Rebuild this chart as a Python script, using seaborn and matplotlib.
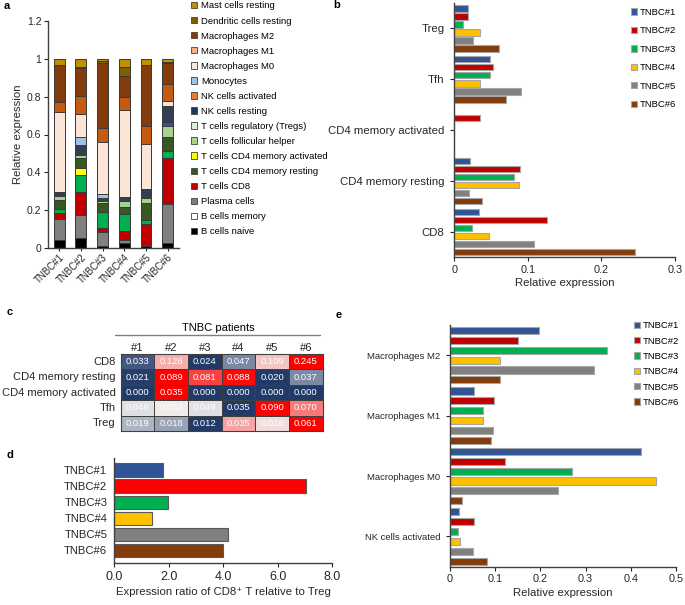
import numpy as np
import pandas as pd
import matplotlib
matplotlib.use('Agg')
import matplotlib.pyplot as plt
from matplotlib.colors import LinearSegmentedColormap
from matplotlib.patches import Patch
from matplotlib.lines import Line2D
import seaborn as sns

W, H = 685, 605

SAMPLES = ['TNBC#1', 'TNBC#2', 'TNBC#3', 'TNBC#4', 'TNBC#5', 'TNBC#6']
SAMPLE_COLORS = ['#2F5597', '#C00000', '#00B050', '#FFC000', '#808080', '#843C0C']
RATIO_COLORS = ['#2F5597', '#FF0000', '#00B050', '#FFC000', '#808080', '#843C0C']

# T cell fractions (panel b / c)
CD8 = [0.033, 0.126, 0.024, 0.047, 0.109, 0.245]
CD4_RESTING = [0.021, 0.089, 0.081, 0.088, 0.020, 0.037]
CD4_ACTIVATED = [0.000, 0.035, 0.000, 0.000, 0.000, 0.000]
TFH = [0.049, 0.052, 0.049, 0.035, 0.090, 0.070]
TREG = [0.019, 0.018, 0.012, 0.035, 0.026, 0.061]

# myeloid / NK fractions (panel e)
MACRO_M2 = [0.198, 0.150, 0.347, 0.110, 0.319, 0.110]
MACRO_M1 = [0.054, 0.097, 0.074, 0.072, 0.095, 0.090]
MACRO_M0 = [0.422, 0.121, 0.271, 0.455, 0.238, 0.027]
NK_ACTIVATED = [0.020, 0.052, 0.017, 0.022, 0.050, 0.082]

# other cell types (panel a only)
B_NAIVE = [0.044, 0.053, 0.012, 0.026, 0.012, 0.030]
B_MEMORY = [0.0, 0.0, 0.0, 0.0, 0.0, 0.0]
PLASMA = [0.109, 0.120, 0.072, 0.020, 0.007, 0.203]
NK_RESTING = [0.0, 0.0, 0.0, 0.0, 0.0, 0.020]
MONOCYTES = [0.0, 0.040, 0.020, 0.0, 0.0, 0.0]
DC_RESTING = [0.0, 0.005, 0.008, 0.045, 0.0, 0.008]
MAST_RESTING = [0.031, 0.042, 0.013, 0.045, 0.034, 0.017]

# CD8 / Treg ratio (panel d)
RATIO = [1.77, 7.02, 1.98, 1.37, 4.16, 4.00]

# stack order, bottom to top
CELL_TYPES = ['B cells naive', 'B cells memory', 'Plasma cells', 'T cells CD8',
              'T cells CD4 memory resting', 'T cells CD4 memory activated',
              'T cells follicular helper', 'T cells regulatory (Tregs)',
              'NK cells resting', 'NK cells activated', 'Monocytes',
              'Macrophages M0', 'Macrophages M1', 'Macrophages M2',
              'Dendritic cells resting', 'Mast cells resting']
FRACTIONS = [B_NAIVE, B_MEMORY, PLASMA, CD8, CD4_RESTING, CD4_ACTIVATED, TFH, TREG,
             NK_RESTING, NK_ACTIVATED, MONOCYTES, MACRO_M0, MACRO_M1, MACRO_M2,
             DC_RESTING, MAST_RESTING]
BAR_COLORS = ['#000000', '#FFFFFF', '#808080', '#C00000', '#00B050', '#FFFF00',
              '#385723', '#A9D18E', '#2F5597', '#333F50', '#9DC3E6', '#FBE5D6',
              '#C55A11', '#843C0C', '#7F6000', '#BF9000']
LEGEND_COLORS = ['#000000', '#FFFFFF', '#7F7F7F', '#C00000', '#385723', '#FFFF00',
                 '#A9D18E', '#E2F0D9', '#203864', '#ED7D31', '#9DC3E6', '#FBE5D6',
                 '#F4B183', '#843C0C', '#7F6000', '#BF9000']

B_CATS = ['Treg', 'Tfh', 'CD4 memory activated', 'CD4 memory resting', 'CD8']
B_VALUES = [TREG, TFH, CD4_ACTIVATED, CD4_RESTING, CD8]

HEAT_ROWS = ['CD8', 'CD4 memory resting', 'CD4 memory activated', 'Tfh', 'Treg']
HEAT_VALUES = [CD8, CD4_RESTING, CD4_ACTIVATED, TFH, TREG]
HEAT_COLS = ['#1', '#2', '#3', '#4', '#5', '#6']

E_CATS = ['Macrophages M2', 'Macrophages M1', 'Macrophages M0', 'NK cells activated']
E_VALUES = [MACRO_M2, MACRO_M1, MACRO_M0, NK_ACTIVATED]


def add_ax(fig, x0, y0, x1, y1):
    ''' axes from pixel box (top-left origin) '''
    return fig.add_axes([x0 / W, 1 - y1 / H, (x1 - x0) / W, (y1 - y0) / H])


def excel_scale(row):
    ''' 3-colour scale like Excel: min -> -1, median -> 0, max -> 1 '''
    row = np.asarray(row, float)
    lo, mid, hi = row.min(), np.median(row), row.max()
    out = np.zeros_like(row)
    for j, v in enumerate(row):
        if v <= mid:
            out[j] = -1 + (v - lo) / (mid - lo) if mid > lo else -1
        else:
            out[j] = (v - mid) / (hi - mid)
    return out


def grouped_hbar(fig, ax, cats, values, width, gap, lab_size, leg_y, leg_x, leg_space):
    rows = [(c, s, v) for c, vals in zip(cats, values) for s, v in zip(SAMPLES, vals)]
    df = pd.DataFrame(rows, columns=['cell', 'sample', 'value'])
    sns.barplot(data=df, x='value', y='cell', hue='sample', palette=SAMPLE_COLORS,
                orient='h', saturation=1, width=width, gap=gap, errorbar=None,
                edgecolor='#A6A6A6', linewidth=0.8, ax=ax)
    ax.set_ylim(len(cats) - 0.5, -0.5)
    ax.set_ylabel('')
    ax.set_xlabel('Relative expression', fontsize=8.2, labelpad=2.5)
    ax.tick_params(axis='y', labelsize=lab_size, length=3, width=0.8, pad=4)
    ax.tick_params(axis='x', labelsize=7.8, length=3, width=0.8, pad=2.5)
    sns.despine(ax=ax)
    for sp in ['left', 'bottom']:
        ax.spines[sp].set_linewidth(1.0)
        ax.spines[sp].set_color('#404040')
    sns.move_legend(ax, 'upper left', bbox_to_anchor=(leg_x / W, 1 - leg_y / H),
                    bbox_transform=fig.transFigure, frameon=False, title=None,
                    fontsize=6.8, borderpad=0, borderaxespad=0,
                    handlelength=0.65, handleheight=0.65, handletextpad=0.25,
                    labelspacing=leg_space)


def main():
    sns.set_style('ticks')
    plt.rcParams['font.family'] = ['Liberation Sans', 'DejaVu Sans']
    plt.rcParams['text.color'] = 'black'

    fig = plt.figure(figsize=(W / 100, H / 100), dpi=100)

    # a - stacked composition
    axa = add_ax(fig, 48.3, 20.7, 178.5, 248.3)
    cum = np.cumsum(np.array(FRACTIONS), axis=0)
    for i in range(len(CELL_TYPES) - 1, -1, -1):
        sns.barplot(x=SAMPLES, y=cum[i], color=BAR_COLORS[i], width=0.5,
                    saturation=1, edgecolor='#3A3A3A', linewidth=0.7,
                    errorbar=None, ax=axa)
    axa.set_xlim(-0.5, 5.5)
    axa.set_ylim(0, 1.2)
    axa.set_yticks([0, 0.2, 0.4, 0.6, 0.8, 1.0, 1.2])
    axa.set_yticklabels(['0', '0.2', '0.4', '0.6', '0.8', '1', '1.2'])
    axa.set_ylabel('Relative expression', fontsize=8.2, labelpad=3)
    axa.tick_params(axis='y', labelsize=7.5, length=3, width=0.8, pad=2)
    axa.tick_params(axis='x', labelsize=7, length=2, width=0.8, pad=1)
    for lab in axa.get_xticklabels():
        lab.set_rotation(45)
        lab.set_ha('right')
        lab.set_rotation_mode('anchor')
    sns.despine(ax=axa)
    for sp in ['left', 'bottom']:
        axa.spines[sp].set_linewidth(1.0)
        axa.spines[sp].set_color('#404040')
    handles = [Patch(facecolor=c, edgecolor='#404040', linewidth=0.6, label=n)
               for n, c in zip(CELL_TYPES, LEGEND_COLORS)][::-1]
    fig.legend(handles=handles, loc='upper left', bbox_to_anchor=(191 / W, 1 - 1.5 / H),
               frameon=False, borderpad=0, borderaxespad=0, fontsize=6.8,
               handlelength=0.65, handleheight=0.65, handletextpad=0.4,
               labelspacing=0.64)

    # b - T cell subsets (right end pulled in a little so "0.3" is not cut)
    axb = add_ax(fig, 454.3, 3, 675, 257.3)
    grouped_hbar(fig, axb, B_CATS, B_VALUES, 0.95, 0.2, 8.2, 7.8, 631, 1.0)
    axb.set_xlim(0, 0.3)
    axb.set_xticks([0, 0.1, 0.2, 0.3])
    axb.set_xticklabels(['0', '0.1', '0.2', '0.3'])

    # c - heat table
    axc = add_ax(fig, 120.7, 354, 322.7, 431)
    norm = np.array([excel_scale(r) for r in HEAT_VALUES])
    annot = np.array([[f'{v:.3f}' for v in r] for r in HEAT_VALUES])
    cmap = LinearSegmentedColormap.from_list('excel3', ['#223A68', '#F2F2F2', '#FF0000'])
    sns.heatmap(norm, ax=axc, cmap=cmap, vmin=-1, vmax=1, cbar=False,
                annot=annot, fmt='', annot_kws={'color': 'white', 'fontsize': 6.8},
                linewidths=0.7, linecolor='#404040',
                xticklabels=HEAT_COLS, yticklabels=HEAT_ROWS)
    axc.xaxis.tick_top()
    axc.tick_params(axis='x', length=0, labelsize=8, pad=1)
    axc.tick_params(axis='y', length=0, labelsize=8, pad=3.5, rotation=0)
    for sp in axc.spines.values():
        sp.set_visible(True)
        sp.set_color('#404040')
        sp.set_linewidth(0.8)
    fig.text(218 / W, 1 - 328 / H, 'TNBC patients', fontsize=8, ha='center', va='center')
    fig.add_artist(Line2D([115 / W, 320 / W], [1 - 335 / H, 1 - 335 / H],
                          color='#7F7F7F', linewidth=1.0))

    # d - CD8/Treg ratio
    axd = add_ax(fig, 114.3, 458, 332.3, 563)
    sns.barplot(x=RATIO, y=SAMPLES, hue=SAMPLES, palette=RATIO_COLORS, orient='h',
                legend=False, saturation=1, width=0.83, errorbar=None,
                edgecolor='#595959', linewidth=0.8, ax=axd)
    axd.set_ylim(5.78, -0.75)
    axd.set_xlim(0, 8)
    axd.set_xticks([0, 2, 4, 6, 8])
    axd.set_xticklabels(['0.0', '2.0', '4.0', '6.0', '8.0'])
    axd.set_xlabel('Expression ratio of CD8\u207a T relative to Treg', fontsize=8.2, labelpad=3)
    axd.tick_params(axis='y', labelsize=8.1, length=0, pad=5)
    axd.tick_params(axis='x', labelsize=9, length=3, width=0.8, pad=2.5)
    sns.despine(ax=axd)
    for sp in ['left', 'bottom']:
        axd.spines[sp].set_linewidth(1.0)
        axd.spines[sp].set_color('#404040')

    # e - macrophages / NK
    axe = add_ax(fig, 450, 325, 676, 566.7)
    grouped_hbar(fig, axe, E_CATS, E_VALUES, 0.98, 0.27, 6.8, 321.2, 634, 0.67)
    axe.set_xlim(0, 0.5)
    axe.set_xticks([0, 0.1, 0.2, 0.3, 0.4, 0.5])
    axe.set_xticklabels(['0', '0.1', '0.2', '0.3', '0.4', '0.5'])

    for letter, x, y in [('a', 7, 6), ('b', 337, 5), ('c', 10, 312),
                         ('d', 10, 455), ('e', 339, 315)]:
        fig.text(x / W, 1 - y / H, letter, fontsize=8, fontweight='bold',
                 ha='center', va='center')

    fig.savefig('out.png', dpi=100)


if __name__ == "__main__":
    main()
